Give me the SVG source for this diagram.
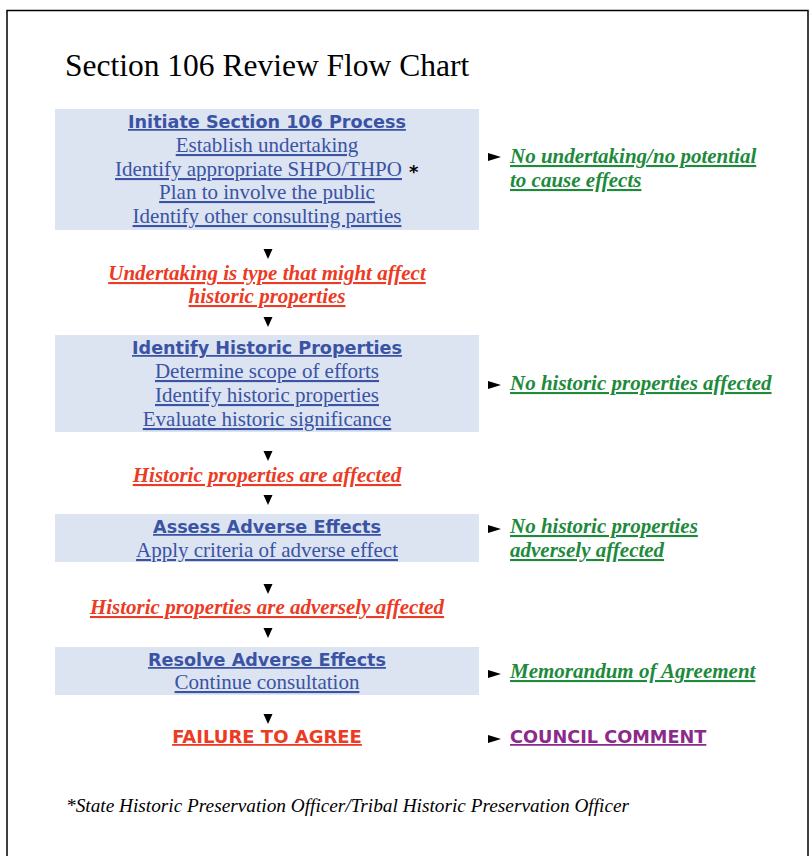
<svg xmlns="http://www.w3.org/2000/svg" xmlns:xlink="http://www.w3.org/1999/xlink" width="809" height="856" viewBox="0 0 809 856">
<style>
.frame{fill:none;stroke:#000;stroke-width:1.5}
.box{fill:#dce3f1}
.title{font-family:"Liberation Serif",serif;font-size:31.5px;fill:#000}
.hd{font-family:"DejaVu Sans",Verdana,sans-serif;font-weight:bold;font-size:17.6px;fill:#3a53a4;text-decoration:underline;text-anchor:middle}
.it{font-family:"Liberation Serif",serif;font-size:21px;fill:#3a53a4;text-decoration:underline;text-anchor:middle}
.red{font-family:"Liberation Serif",serif;font-weight:bold;font-style:italic;font-size:21px;fill:#ec3b24;text-decoration:underline;text-anchor:middle}
.green{font-family:"Liberation Serif",serif;font-weight:bold;font-style:italic;font-size:21px;fill:#1e8a3c;text-decoration:underline}
.redsans{font-family:"DejaVu Sans",Verdana,sans-serif;font-weight:bold;font-size:18px;fill:#ec3b24;text-decoration:underline;text-anchor:middle}
.purple{font-family:"DejaVu Sans",Verdana,sans-serif;font-weight:bold;font-size:17.7px;fill:#8c2a8c;text-decoration:underline}
.note{font-family:"Liberation Serif",serif;font-style:italic;font-size:19.3px;fill:#000}
.ast{font-family:"DejaVu Sans",sans-serif;font-weight:bold;font-size:18px;fill:#000}
.arr{fill:#000}
</style>
<defs>
<path id="down" d="M-4.5,0 L4.5,0 L0,10 Z"/>
<path id="right" d="M0,-4 L13,0 L0,4 Z"/>
</defs>
<rect width="809" height="856" fill="#fff"/>
<path class="frame" d="M7,860 L7,10.5 L808,10.5 L808,860"/>
<text class="title" x="65" y="76">Section 106 Review Flow Chart</text>

<g id="initiate">
<rect class="box" x="55" y="109" width="424" height="121"/>
<text class="hd" x="267" y="128">Initiate Section 106 Process</text>
<text class="it" x="267" y="152">Establish undertaking</text>
<text class="it" x="115" y="176" style="text-anchor:start">Identify appropriate SHPO/THPO</text>
<text class="ast" x="409" y="178">*</text>
<text class="it" x="267" y="199">Plan to involve the public</text>
<text class="it" x="267" y="223">Identify other consulting parties</text>
</g>

<g id="no-undertaking">
<text class="green" x="510" y="163">No undertaking/no potential</text>
<text class="green" x="510" y="187">to cause effects</text>
</g>

<g id="undertaking-type">
<text class="red" x="267" y="280">Undertaking is type that might affect</text>
<text class="red" x="267" y="303">historic properties</text>
</g>

<g id="identify">
<rect class="box" x="55" y="335" width="424" height="97"/>
<text class="hd" x="267" y="354">Identify Historic Properties</text>
<text class="it" x="267" y="378">Determine scope of efforts</text>
<text class="it" x="267" y="402">Identify historic properties</text>
<text class="it" x="267" y="426">Evaluate historic significance</text>
</g>

<g id="no-historic">
<text class="green" x="510" y="390">No historic properties affected</text>
</g>

<g id="affected">
<text class="red" x="267" y="482">Historic properties are affected</text>
</g>

<g id="assess">
<rect class="box" x="55" y="514" width="424" height="48"/>
<text class="hd" x="267" y="533">Assess Adverse Effects</text>
<text class="it" x="267" y="557">Apply criteria of adverse effect</text>
</g>

<g id="no-adverse">
<text class="green" x="510" y="533">No historic properties</text>
<text class="green" x="510" y="557">adversely affected</text>
</g>

<g id="adversely">
<text class="red" x="267" y="614">Historic properties are adversely affected</text>
</g>

<g id="resolve">
<rect class="box" x="55" y="647" width="424" height="48"/>
<text class="hd" x="267" y="666">Resolve Adverse Effects</text>
<text class="it" x="267" y="689">Continue consultation</text>
</g>

<g id="moa">
<text class="green" x="510" y="678">Memorandum of Agreement</text>
</g>

<g id="failure">
<text class="redsans" x="267" y="743">FAILURE TO AGREE</text>
</g>

<g id="council">
<text class="purple" x="510" y="743">COUNCIL COMMENT</text>
</g>

<g id="connectors" class="arr">
<use xlink:href="#down" x="268" y="249"/>
<use xlink:href="#down" x="268" y="317"/>
<use xlink:href="#down" x="268" y="451"/>
<use xlink:href="#down" x="268" y="495"/>
<use xlink:href="#down" x="268" y="584"/>
<use xlink:href="#down" x="268" y="628"/>
<use xlink:href="#down" x="268" y="714"/>
<use xlink:href="#right" x="488" y="157"/>
<use xlink:href="#right" x="488" y="385"/>
<use xlink:href="#right" x="488" y="529"/>
<use xlink:href="#right" x="488" y="674"/>
<use xlink:href="#right" x="488" y="739"/>
</g>

<text class="note" x="66" y="812">*State Historic Preservation Officer/Tribal Historic Preservation Officer</text>
</svg>
